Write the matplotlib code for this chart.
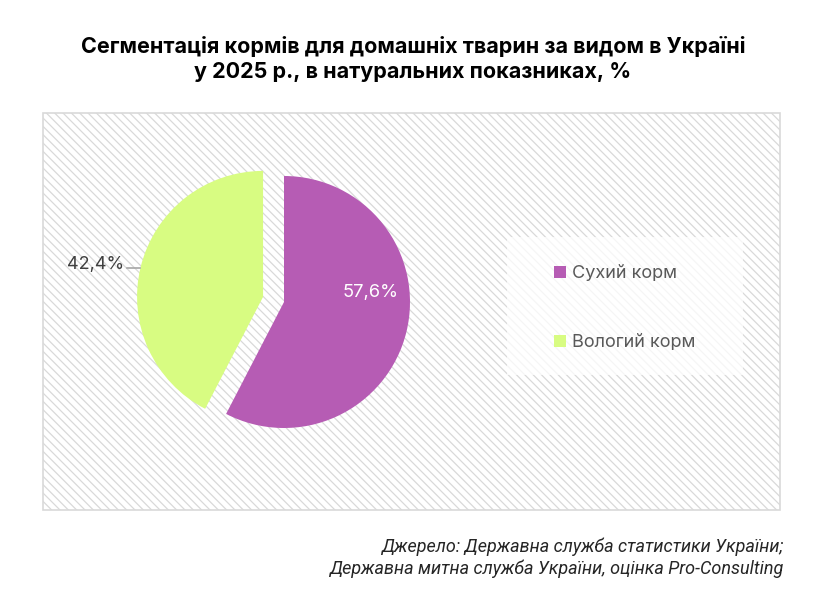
import matplotlib.pyplot as plt
from matplotlib.patches import Rectangle, Patch

# дані
categories = ['Сухий корм', 'Вологий корм']
shares = [57.6, 42.4]
colors = ['#B65CB4', '#D8FC82']
title = 'Сегментація кормів для домашніх тварин за видом в Україні\nу 2025 р., в натуральних показниках, %'
source = 'Джерело: Державна служба статистики України;\nДержавна митна служба України, оцінка Pro-Consulting'

plt.rcParams['font.family'] = ['Inter', 'DejaVu Sans']
plt.rcParams['hatch.color'] = '#DCDCDC'
plt.rcParams['hatch.linewidth'] = 0.9

W, H = 826, 608
fig = plt.figure(figsize=(W / 100, H / 100), dpi=100)

def fx(px):
    return px / W

def fy(py):
    return 1 - py / H

# фон області діаграми (штриховка)
x0, x1, y0, y1 = 43, 780, 113, 510
fig.patches.append(Rectangle((fx(x0), fy(y1)), fx(x1 - x0), (y1 - y0) / H,
                             transform=fig.transFigure, facecolor='white',
                             edgecolor='#D9D9D9', linewidth=1.2, hatch='\\\\\\\\',
                             zorder=-5))

# піктограма
ax = fig.add_axes([fx(x0), fy(y1), fx(x1 - x0), (y1 - y0) / H])
ax.patch.set_visible(False)
cx, cy, r = 284, 302, 126
ax.pie(shares, colors=colors, startangle=90, counterclock=False,
       explode=[0, 0.171], radius=1, wedgeprops=dict(linewidth=0))
ax.set_aspect('auto')
ax.set_xlim((x0 - cx) / r, (x1 - cx) / r)
ax.set_ylim((cy - y1) / r, (cy - y0) / r)
ax.axis('off')

def fmt(v):
    return f'{v:.1f}%'.replace('.', ',')

ax.text((371 - cx) / r, (cy - 293) / r, fmt(shares[0]), color='white',
        fontsize=13.2, ha='center', va='center')
ax.text((124 - cx) / r, (cy - 264) / r, fmt(shares[1]), color='#404040',
        fontsize=13, ha='right', va='center')
ax.plot([(127 - cx) / r, (140 - cx) / r], [(cy - 268) / r, (cy - 268) / r],
        color='#A6A6A6', linewidth=1.2)

# легенда
fig.patches.append(Rectangle((fx(507), fy(375)), fx(743 - 507), (375 - 237) / H,
                             transform=fig.transFigure, facecolor='white',
                             edgecolor='none', alpha=0.75, zorder=-4))
handles = [Patch(facecolor=c, edgecolor='none') for c in colors]
fig.legend(handles, categories, loc='upper left',
           bbox_to_anchor=(fx(545), fy(256)), frameon=False, borderpad=0,
           fontsize=13, labelcolor='#595959', handlelength=0.64,
           handleheight=0.64, handletextpad=0.33, labelspacing=2.9)

# заголовок і джерело
fig.text(0.5, fy(59), title, ha='center', va='center', fontsize=15.5,
         fontweight='bold', color='black', linespacing=1.35)
fig.text(fx(783), fy(558), source, ha='right', va='center', fontsize=13,
         style='italic', color='#262626', linespacing=1.25,
         family=['Roboto', 'DejaVu Sans'])

fig.savefig('out.png', dpi=100)
